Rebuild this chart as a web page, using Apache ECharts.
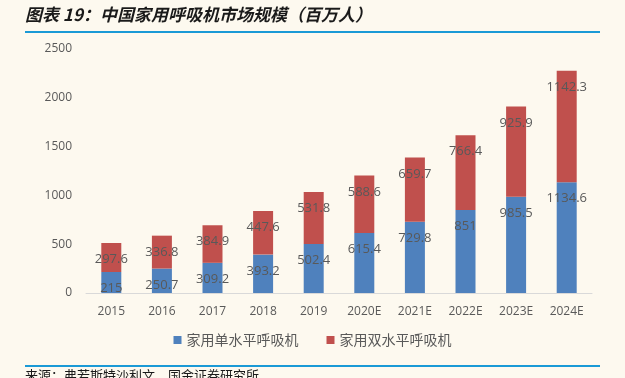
<!DOCTYPE html>
<html><head><meta charset="utf-8">
<script src="https://cdn.jsdelivr.net/npm/echarts@6/dist/echarts.min.js"></script>
<style>html,body{margin:0;padding:0;background:#FDF9EF;}#c{width:625px;height:378px;}</style>
</head><body><div id="c"></div>
<script>
const categories = ['2015','2016','2017','2018','2019','2020E','2021E','2022E','2023E','2024E'];
const singleLevel = [215, 250.7, 309.2, 393.2, 502.4, 615.4, 729.8, 851, 985.5, 1134.6];
const doubleLevel = [297.6, 336.8, 384.9, 447.6, 531.8, 588.6, 659.7, 766.4, 925.9, 1142.3];
const seriesNames = ['家用单水平呼吸机', '家用双水平呼吸机'];
const yTicks = {min: 0, max: 2500, interval: 500};

const chart = echarts.init(document.getElementById('c'), null, {renderer: 'canvas'});
const lbl = {show: true, position: 'insideTop', distance: 10, color: '#595959', fontSize: 13, fontFamily: 'Open Sans, sans-serif'};
chart.setOption({
  backgroundColor: '#FDF9EF',
  animation: false,
  grid: {left: 86, right: 33, top: 49, bottom: 85},
  xAxis: {
    type: 'category', data: categories,
    axisLine: {lineStyle: {color: '#D9D9D9', width: 1}},
    axisTick: {show: false},
    axisLabel: {color: '#595959', fontSize: 12, margin: 13, fontFamily: 'Open Sans, sans-serif'}
  },
  yAxis: {
    type: 'value', min: yTicks.min, max: yTicks.max, interval: yTicks.interval,
    axisLine: {show: false}, axisTick: {show: false}, splitLine: {show: false},
    axisLabel: {color: '#595959', fontSize: 12, margin: 14, fontFamily: 'Open Sans, sans-serif', formatter: v => String(v)}
  },
  legend: {
    bottom: 26, left: 'center', itemWidth: 8, itemHeight: 8, itemGap: 28,
    icon: 'rect',
    textStyle: {color: '#595959', fontSize: 14, fontFamily: 'Noto Sans CJK SC'},
    data: seriesNames
  },
  series: [
    {name: seriesNames[0], type: 'bar', stack: 'a', barWidth: 20, data: singleLevel,
     itemStyle: {color: '#4F81BD'}, label: lbl},
    {name: seriesNames[1], type: 'bar', stack: 'a', barWidth: 20, data: doubleLevel,
     itemStyle: {color: '#C0504D'}, label: lbl}
  ],
  graphic: [
    {type: 'text', left: 25, top: 6, style: {text: '图表 19：中国家用呼吸机市场规模（百万人）', fill: '#1a1a1a', font: 'italic bold 17px "Noto Sans CJK SC"'}},
    {type: 'rect', left: 25, top: 31, shape: {width: 575, height: 2}, style: {fill: '#1B9AD6'}},
    {type: 'rect', left: 25, top: 365, shape: {width: 575, height: 2}, style: {fill: '#1B9AD6'}},
    {type: 'text', left: 25, top: 369, style: {text: '来源：弗若斯特沙利文，国金证券研究所', fill: '#1a1a1a', font: '13px "Noto Sans CJK SC"'}}
  ]
});
</script></body></html>
